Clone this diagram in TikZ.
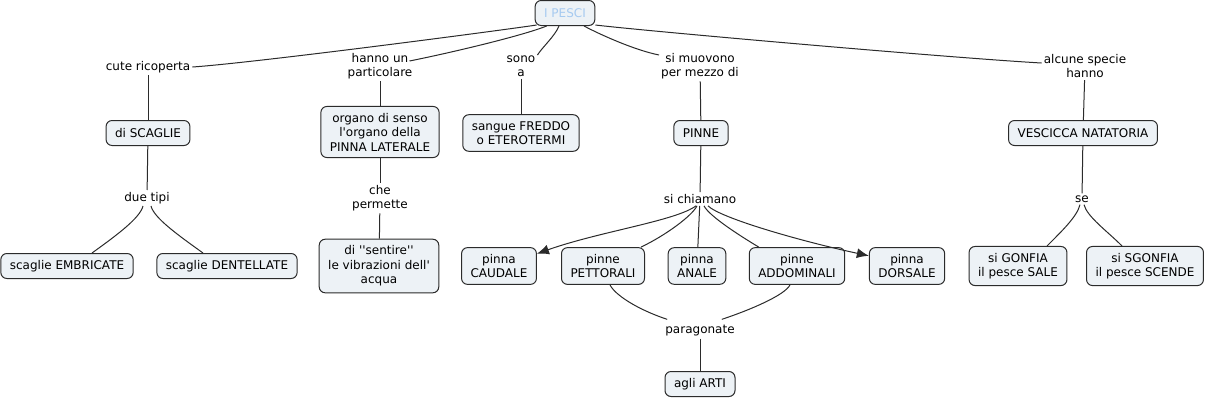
\documentclass[tikz,border=0pt]{standalone}
\usepackage{fontspec}
\setmainfont{DejaVu Sans}[Ligatures=TeXOff]
\usepackage{tikz}
\usetikzlibrary{arrows.meta}

\definecolor{boxfill}{HTML}{EDF2F6}
\definecolor{rootblue}{HTML}{A6CAF0}
\definecolor{edgegray}{HTML}{2B2B2B}

\begin{document}
\begin{tikzpicture}[x=1pt,y=-1pt]
  \tikzset{concept/.style = {shape=rectangle,rounded corners=6pt,draw=edgegray,line width=1pt,fill=boxfill,align=center,minimum height=25pt,inner xsep=9pt,inner ysep=6.5pt,font=\fontsize{12}{14.5}\selectfont}}
  \tikzset{phrase/.style = {align=center,inner sep=2pt,font=\fontsize{12}{14.5}\selectfont}}
  \tikzset{link/.style = {draw=edgegray,line width=1pt}}
  \tikzset{tip/.style = {-{Latex[length=12pt,width=10pt]}}}

  \useasboundingbox (0,0) rectangle (1208,400);

	\node[concept,text=rootblue] (pesci) at (565,13) {I PESCI};

	\node[phrase] (cute) at (148,67) {cute ricoperta};
	\node[concept] (scaglie) at (148,133) {di SCAGLIE};
	\node[phrase] (due) at (147,198) {due tipi};
	\node[concept] (embricate) at (67,266) {scaglie EMBRICATE};
	\node[concept] (dentellate) at (227,266) {scaglie DENTELLATE};

	\node[phrase] (hanno) at (380,66) {hanno un\\particolare};
	\node[concept] (organo) at (380,132) {organo di senso\\l'organo della\\PINNA LATERALE};
	\node[phrase] (che) at (380,198) {che\\permette};
	\node[concept] (sentire) at (379,266) {di ''sentire''\\le vibrazioni dell'\\acqua};

	\node[phrase] (sono) at (521,66) {sono\\a};
	\node[concept] (sangue) at (521,133) {sangue FREDDO\\o ETEROTERMI};

	\node[phrase] (muovono) at (700,66) {si muovono\\per mezzo di};
	\node[concept] (pinne) at (701,133) {PINNE};
	\node[phrase] (chiamano) at (700,199) {si chiamano};
	\node[concept] (caudale) at (499,266) {pinna\\CAUDALE};
	\node[concept] (pettorali) at (603,266) {pinne\\PETTORALI};
	\node[concept] (anale) at (697,266) {pinna\\ANALE};
	\node[concept] (addominali) at (797,266) {pinne\\ADDOMINALI};
	\node[concept] (dorsale) at (907,266) {pinna\\DORSALE};
	\node[phrase] (paragonate) at (700,331) {paragonate};
	\node[concept] (arti) at (700,384) {agli ARTI};

	\node[phrase] (alcune) at (1085,66) {alcune specie\\hanno};
	\node[concept] (vescicca) at (1083,133) {VESCICCA NATATORIA};
	\node[phrase] (se) at (1082,199) {se};
	\node[concept] (gonfia) at (1018,266) {si GONFIA\\il pesce SALE};
	\node[concept] (sgonfia) at (1145,266) {si SGONFIA\\il pesce SCENDE};

	% from the root to the linking phrases
	\draw[link] ([xshift=2pt,yshift=1pt]pesci.south west) .. controls +(-40,6) and +(60,-4) .. (cute.east);
	\draw[link] ([xshift=12pt]pesci.south west) .. controls +(-25,10) and +(40,-8) .. ([shift={(-5pt,5pt)}]hanno.east);
	\draw[link] ([xshift=-6pt]pesci.south) .. controls +(-4,10) and +(5,-8) .. ([yshift=11pt]sono.east);
	\draw[link] ([xshift=19pt]pesci.south) .. controls +(15,8) and +(-25,-5) .. ([yshift=11pt]muovono.west);
	\draw[link] ([yshift=1pt]pesci.south east) .. controls +(50,6) and +(-90,-5) .. ([yshift=3pt]alcune.west);

	\foreach \from/\to in {cute/scaglie, scaglie/due, hanno/organo, organo/che, che/sentire, sono/sangue, muovono/pinne, pinne/chiamano, chiamano/anale, paragonate/arti, alcune/vescicca, vescicca/se}
    \path[link] (\from) edge (\to);

	\draw[link] ([xshift=-4pt]due.south) .. controls +(-3,12) and +(25,-18) .. ([xshift=25pt]embricate.north);
	\draw[link] ([xshift=4pt]due.south) .. controls +(3,12) and +(-25,-18) .. ([xshift=-24pt]dentellate.north);

	\draw[link,tip] ([xshift=-4pt]chiamano.south) .. controls +(-20,15) and +(62,-22) .. (caudale.18);
	\draw[link] ([xshift=-3pt]chiamano.south) .. controls +(-5,10) and +(25,-12) .. ([xshift=-4pt]pettorali.north east);
	\draw[link] ([xshift=4pt]chiamano.south) .. controls +(5,10) and +(-20,-12) .. ([xshift=10pt]addominali.north west);
	\draw[link,tip] ([xshift=8pt]chiamano.south) .. controls +(12,12) and +(-70,-15) .. (dorsale.165);

	\draw[link] ([xshift=7pt]pettorali.south) .. controls +(5,10) and +(-30,-10) .. ([shift={(4pt,4pt)}]paragonate.north west);
	\draw[link] ([xshift=-7pt]addominali.south) .. controls +(-5,10) and +(30,-10) .. ([shift={(-15pt,4pt)}]paragonate.north east);

	\draw[link] ([xshift=-2pt]se.south) .. controls +(-3,12) and +(15,-15) .. ([xshift=29pt]gonfia.north);
	\draw[link] ([xshift=2pt]se.south) .. controls +(3,12) and +(-15,-15) .. ([xshift=-23pt]sgonfia.north);
\end{tikzpicture}
\end{document}
